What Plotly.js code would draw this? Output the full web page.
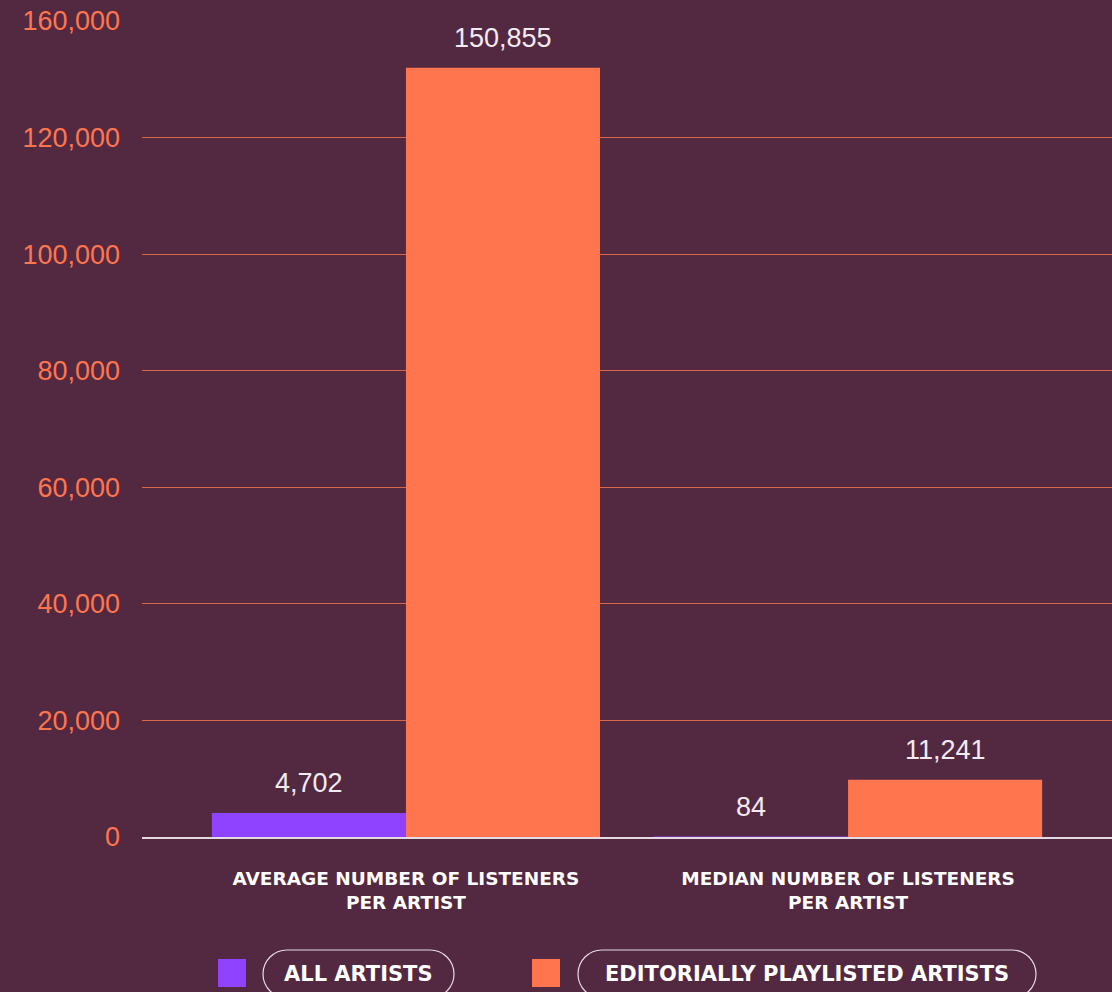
<!DOCTYPE html>
<html>
<head>
<meta charset="utf-8">
<script src="https://cdn.plot.ly/plotly-3.0.1.min.js"></script>
<style>
html,body{margin:0;padding:0;background:#532841;}
#chart{width:1112px;height:992px;}
</style>
</head>
<body>
<div id="chart"></div>
<script>
// ---- data ----
const categories = ["AVERAGE NUMBER OF LISTENERS<br>PER ARTIST", "MEDIAN NUMBER OF LISTENERS<br>PER ARTIST"];
const seriesNames = ["ALL ARTISTS", "EDITORIALLY PLAYLISTED ARTISTS"];
const allArtists = [4702, 84];
const editorialArtists = [150855, 11241];
const yTickLabels = ["0", "20,000", "40,000", "60,000", "80,000", "100,000", "120,000", "160,000"];
const yMax = 160000;

// ---- style ----
const BG = "#532841";
const PURPLE = "#8F43FF";
const ORANGE = "#FF754D";
const WHITE = "#F3EBF0";
const W = 1112, H = 992;
const M = {l: 142, r: 0, t: 21, b: 155};
const plotW = W - M.l - M.r, plotH = H - M.t - M.b;
const bargap = 0.122;

function fmt(v){ return v.toLocaleString("en-US"); }
function px(x){ return (x - M.l) / plotW; }
function py(y){ return (H - M.b - y) / plotH; }

const traces = [
  {type: "bar", name: seriesNames[0], x: categories, y: allArtists,
   marker: {color: PURPLE, line: {width: 0}}, hoverinfo: "skip"},
  {type: "bar", name: seriesNames[1], x: categories, y: editorialArtists,
   marker: {color: ORANGE, line: {width: 0}}, hoverinfo: "skip"}
];

// value labels above bars
const annotations = [];
const series = [allArtists, editorialArtists];
const groupW = 1 - bargap;
series.forEach((vals, s) => {
  vals.forEach((v, i) => {
    const off = (s === 0 ? -1 : 1) * groupW / 4;
    annotations.push({
      x: i + off, y: v, xref: "x", yref: "y", text: fmt(v), showarrow: false,
      yshift: 30, xanchor: "center", yanchor: "middle",
      font: {family: "Liberation Sans, Arial, sans-serif", size: 27, color: WHITE}
    });
  });
});

// legend (custom, pill-shaped)
const shapes = [];
function pill(x0, x1, y0, y1){
  const r = (y1 - y0) / 2, k = 0.5523 * r;
  const P = (x, y) => px(x).toFixed(5) + "," + py(y).toFixed(5);
  return "M" + P(x0 + r, y0) + " L" + P(x1 - r, y0) +
    " C" + P(x1 - r + k, y0) + " " + P(x1, y0 + r - k) + " " + P(x1, y0 + r) +
    " C" + P(x1, y0 + r + k) + " " + P(x1 - r + k, y1) + " " + P(x1 - r, y1) +
    " L" + P(x0 + r, y1) +
    " C" + P(x0 + r - k, y1) + " " + P(x0, y0 + r + k) + " " + P(x0, y0 + r) +
    " C" + P(x0, y0 + r - k) + " " + P(x0 + r - k, y0) + " " + P(x0 + r, y0) + " Z";
}
const legendItems = [
  {sq: 218, p0: 263, p1: 454, color: PURPLE},
  {sq: 532, p0: 578, p1: 1036, color: ORANGE}
];
legendItems.forEach((it, i) => {
  shapes.push({type: "rect", xref: "paper", yref: "paper",
    x0: px(it.sq), x1: px(it.sq + 28), y0: py(987), y1: py(959),
    fillcolor: it.color, line: {width: 0}});
  shapes.push({type: "path", xref: "paper", yref: "paper", path: pill(it.p0, it.p1, 950, 998),
    line: {color: "#E6DAE2", width: 1.2}, fillcolor: "rgba(0,0,0,0)"});
  annotations.push({xref: "paper", yref: "paper", x: px((it.p0 + it.p1) / 2), y: py(974),
    text: seriesNames[i], showarrow: false, xanchor: "center", yanchor: "middle",
    font: {family: "DejaVu Sans, sans-serif", size: 21, color: "#FFFFFF", weight: 700}});
});

const tickVals = yTickLabels.map((_, i) => i * yMax / (yTickLabels.length - 1));

const layout = {
  width: W, height: H,
  margin: M,
  paper_bgcolor: BG, plot_bgcolor: BG,
  showlegend: false,
  barmode: "group", bargap: bargap, bargroupgap: 0,
  xaxis: {
    type: "category", range: [-0.597, 1.597],
    showgrid: false, zeroline: false,
    showline: true, linecolor: "#E6DAE2", linewidth: 1.5,
    ticks: "", ticklabelstandoff: 24,
    tickfont: {family: "DejaVu Sans, sans-serif", size: 18.5, color: "#FFFFFF", weight: 700}
  },
  yaxis: {
    range: [0, yMax], tickmode: "array", tickvals: tickVals, ticktext: yTickLabels,
    showgrid: true, gridcolor: "#D9654A", gridwidth: 1,
    zeroline: false, showline: false, ticks: "", ticklabelstandoff: 21,
    tickfont: {family: "Liberation Sans, Arial, sans-serif", size: 27, color: ORANGE}
  },
  annotations: annotations,
  shapes: shapes
};

Plotly.newPlot("chart", traces, layout, {staticPlot: true, displayModeBar: false});
</script>
</body>
</html>
